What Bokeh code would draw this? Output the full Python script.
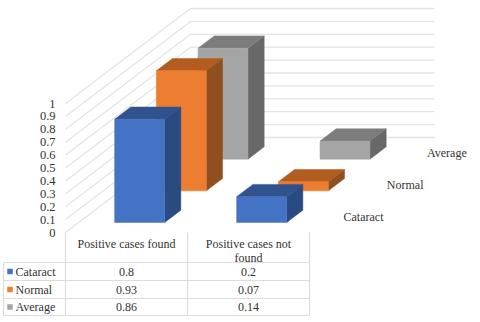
from bokeh.plotting import figure
from bokeh.models import Range1d
from bokeh.core.properties import value
from bokeh.embed import file_html
from bokeh.resources import INLINE

categories = ["Positive cases found", "Positive cases not\nfound"]
series = ["Cataract", "Normal", "Average"]
cataract = [0.8, 0.2]
normal = [0.93, 0.07]
average = [0.86, 0.14]
table_text = [["0.8", "0.2"], ["0.93", "0.07"], ["0.86", "0.14"]]
y_ticks = [0, 0.1, 0.2, 0.3, 0.4, 0.5, 0.6, 0.7, 0.8, 0.9, 1]
y_tick_labels = ["0", "0.1", "0.2", "0.3", "0.4", "0.5", "0.6", "0.7", "0.8", "0.9", "1"]
front = ["#4472C4", "#ED7D31", "#A5A5A5"]
top = ["#30528F", "#B35C20", "#7C7C7C"]
side = ["#2A4A82", "#8F4F1E", "#686868"]

W, H = 472, 318
X0, Y0 = 65.0, 232.0      # pixel of category edge 0, value 0 at the front of the floor
CW, VH = 122.0, 129.0     # pixels per category, per unit of value
DX, DY = 125.0, 95.0      # pixels of the whole depth


def px(v):
    return v / CW


def py(v):
    return v / VH


SERIF = value("Liberation Serif")
TXT = "#333333"
FS = "12px"
p = figure(width=W, height=H, output_backend="svg", toolbar_location=None,
           x_range=Range1d(-X0 / CW, (W - X0) / CW),
           y_range=Range1d((Y0 - H) / VH, Y0 / VH),
           min_border=0, outline_line_color=None)
p.xaxis.visible = False
p.yaxis.visible = False
p.grid.visible = False


def proj(cat_pos, val, depth):
    return cat_pos + depth * px(DX), val + depth * py(DY)


# walls
GRID = "#E4E4E4"
cats_n = len(categories)
for t in y_ticks:
    a = proj(0, t, 0)
    b = proj(0, t, 1)
    c = proj(cats_n, t, 1)
    p.line([a[0], b[0], c[0]], [a[1], b[1], c[1]], line_color=GRID, line_width=1.3)

# y labels
p.text([px(-10)] * len(y_ticks), y_ticks, text=y_tick_labels, text_font=SERIF,
       text_font_size="12.5px", text_color=TXT, text_align="right", text_baseline="middle")

# bars
GAP = 36 / 122
BW = 50 / 122
ROW = 1 / 3
D0 = 10 / 95
DEP = 12.3 / 95
rows = [cataract, normal, average]
for cat in range(cats_n):
    for s in reversed(range(3)):
        h = rows[s][cat]
        d1 = D0 + s * ROW
        d2 = d1 + DEP
        l = cat + GAP
        r = l + BW
        fa = [proj(l, 0, d1), proj(r, 0, d1), proj(r, h, d1), proj(l, h, d1)]
        ta = [proj(l, h, d1), proj(r, h, d1), proj(r, h, d2), proj(l, h, d2)]
        sa = [proj(r, 0, d1), proj(r, 0, d2), proj(r, h, d2), proj(r, h, d1)]
        for pts, col in ((sa, side[s]), (ta, top[s]), (fa, front[s])):
            p.patch([q[0] for q in pts], [q[1] for q in pts], fill_color=col,
                    line_color=col, line_width=0.5)

# depth-axis series labels
for s, name in enumerate(series):
    x, y = proj(2.335, 0, D0 + s * ROW)
    p.text([x], [y + py(6)], text=[name], text_font=SERIF, text_font_size=FS,
           text_color=TXT, text_align="center", text_baseline="middle")

# data table
TL = "#DCDCDC"
row_lines = [-30 / VH, -48 / VH, -66 / VH, -83 / VH]
left_edge = px(3 - X0)
for y in row_lines:
    p.line([left_edge, cats_n], [y, y], line_color=TL, line_width=1.2)
for x in range(cats_n + 1):
    p.line([x, x], [0, row_lines[-1]], line_color=TL, line_width=1.2)
p.line([left_edge, left_edge], [row_lines[0], row_lines[-1]], line_color=TL, line_width=1.2)

for c, cname in enumerate(categories):
    p.text([c + 0.5], [-11 / VH] if "\n" not in cname else [-18 / VH], text=[cname], text_font=SERIF,
           text_font_size=FS, text_color=TXT, text_align="center", text_baseline="middle",
           text_line_height=1.0)
for s, name in enumerate(series):
    yc = (row_lines[s] + row_lines[s + 1]) / 2
    p.scatter([px(9.5 - X0)], [yc], marker="square", size=5.5, fill_color=front[s], line_color=None)
    p.text([px(15 - X0)], [yc], text=[name], text_font=SERIF, text_font_size=FS,
           text_color=TXT, text_align="left", text_baseline="middle")
    for c in range(cats_n):
        p.text([c + 0.5], [yc], text=[table_text[s][c]], text_font=SERIF, text_font_size=FS,
               text_color=TXT, text_align="center", text_baseline="middle")

open("out.html", "w").write(file_html(p, INLINE))
